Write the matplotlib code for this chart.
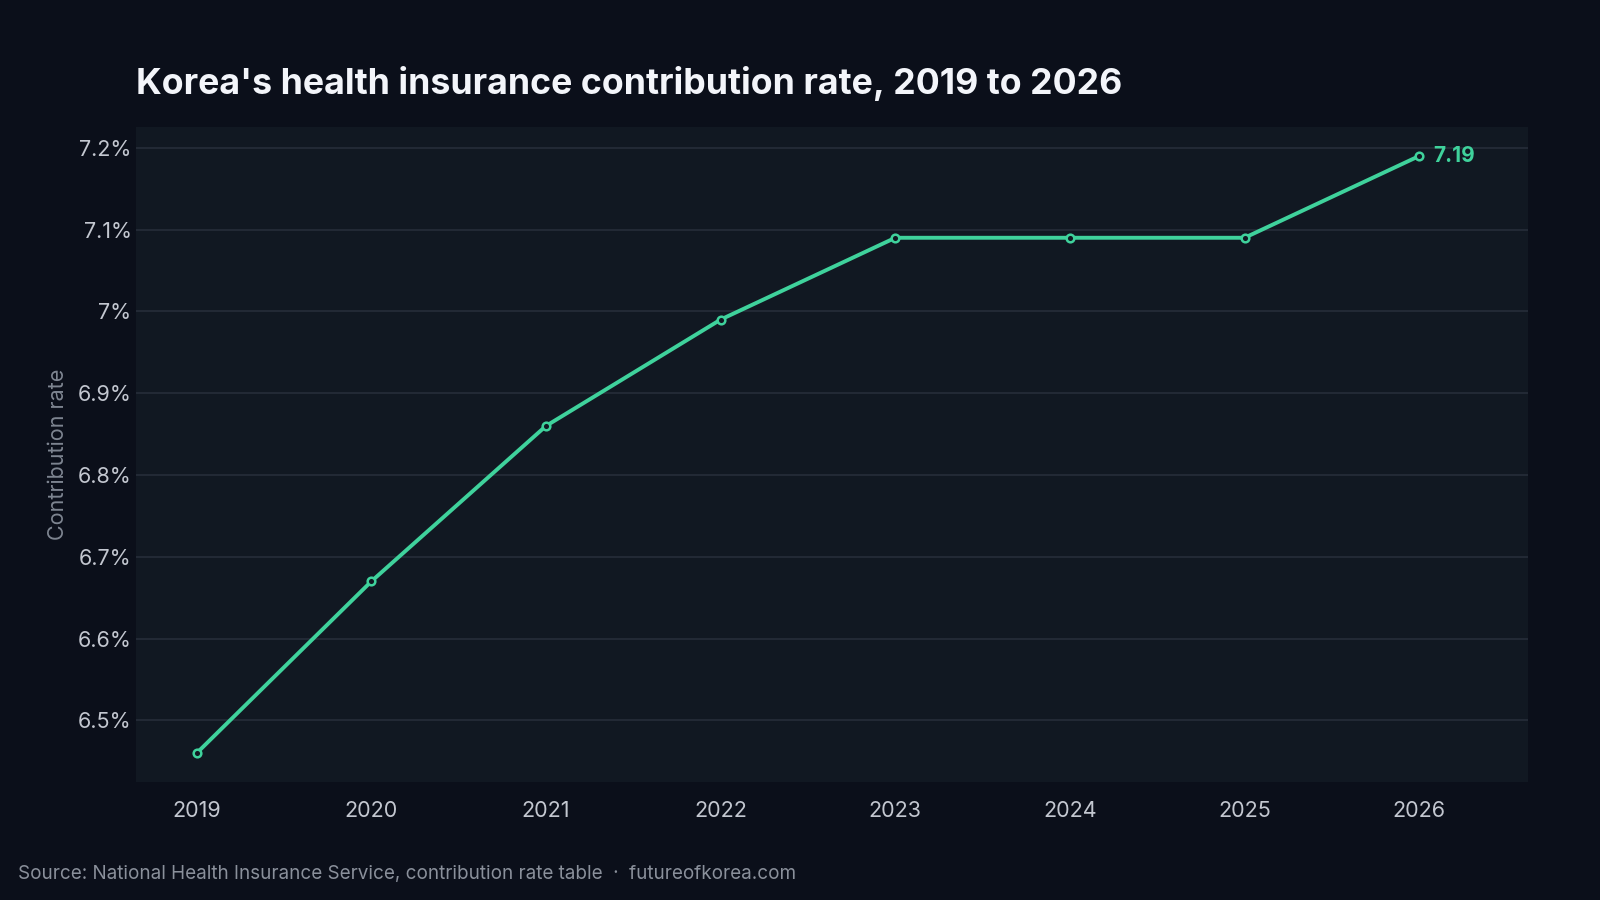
import matplotlib
matplotlib.use("Agg")
import matplotlib.pyplot as plt
from matplotlib.ticker import FuncFormatter

years = [2019, 2020, 2021, 2022, 2023, 2024, 2025, 2026]
rates = [6.46, 6.67, 6.86, 6.99, 7.09, 7.09, 7.09, 7.19]
y_ticks = [6.5, 6.6, 6.7, 6.8, 6.9, 7.0, 7.1, 7.2]

bg = "#0b0f1a"
panel = "#111822"
green = "#3fd29c"
grid_c = "#242b38"
tick_c = "#c3c7d0"

plt.rcParams['font.family'] = ['Inter', 'DejaVu Sans']

fig = plt.figure(figsize=(16, 9), dpi=100, facecolor=bg)
ax = fig.add_axes([0.0848, 0.1315, 0.8699, 0.7279])
ax.set_facecolor(panel)

ax.plot(years, rates, color=green, lw=2.8, marker="o", ms=5.5,
        mfc=panel, mec=green, mew=1.8, zorder=3, solid_capstyle="round")
ax.annotate("%.2f" % rates[-1], (years[-1], rates[-1]), xytext=(10, 0),
            textcoords="offset points", va="center", ha="left",
            color=green, fontsize=15, fontweight="bold")

ax.set_xlim(2018.65, 2026.62)
ax.set_ylim(6.425, 7.226)
ax.set_xticks(years)
ax.set_yticks(y_ticks)
ax.yaxis.set_major_formatter(FuncFormatter(lambda v, p: ("%g" % round(v, 1)) + "%"))
ax.grid(axis="y", color=grid_c, lw=1.3)
ax.grid(axis="x", visible=False)
ax.set_axisbelow(True)
for s in ax.spines.values():
    s.set_visible(False)
ax.tick_params(axis="both", length=0, colors=tick_c, labelsize=15.5)
ax.tick_params(axis="x", pad=14)
ax.tick_params(axis="y", pad=3)
ax.set_ylabel("Contribution rate", color="#7e8591", fontsize=15.5, labelpad=7)

fig.text(0.0848, 0.907, "Korea's health insurance contribution rate, 2019 to 2026",
         color="#f3f5fa", fontsize=25.7, fontweight="bold", ha="left", va="center")
fig.text(0.0115, 0.029, "Source: National Health Insurance Service, contribution rate table  \u00b7  futureofkorea.com",
         color="#8a909b", fontsize=13.6, ha="left", va="center")

fig.savefig("out.png", dpi=100, facecolor=bg)
